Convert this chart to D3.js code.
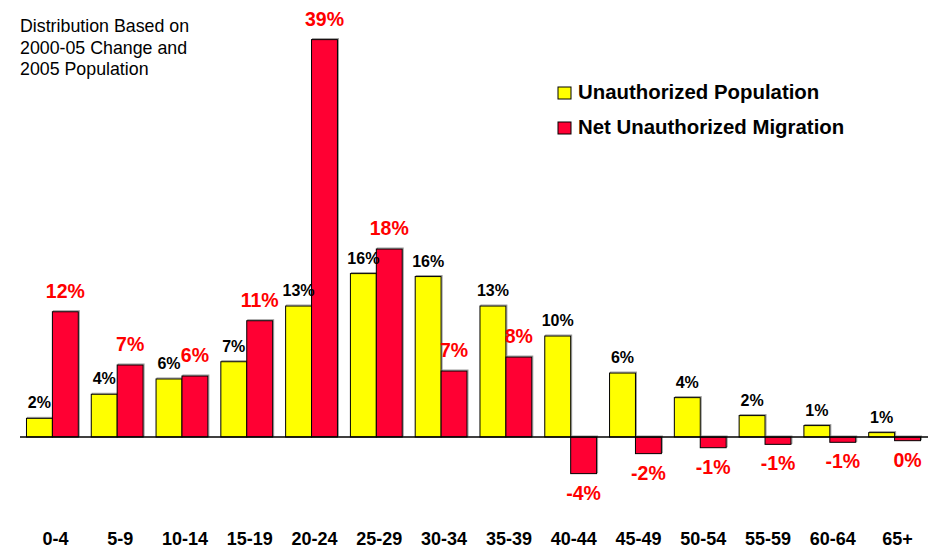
<!DOCTYPE html>
<html>
<head>
<meta charset="utf-8">
<script src="https://cdn.jsdelivr.net/npm/d3@7"></script>
<style>
  html, body { margin: 0; padding: 0; background: #fff; }
  svg { display: block; font-family: Arial, "Liberation Sans", sans-serif; }
</style>
</head>
<body>
<svg id="chart" width="936" height="548"></svg>
<script>
// ---- data ----
const categories = ["0-4","5-9","10-14","15-19","20-24","25-29","30-34","35-39","40-44","45-49","50-54","55-59","60-64","65+"];
const populationValues = [1.83, 4.19, 5.69, 7.38, 12.84, 16.02, 15.73, 12.84, 9.9, 6.27, 3.86, 2.1, 1.12, 0.43];
const migrationValues = [12.28, 7.06, 5.98, 11.4, 38.96, 18.43, 6.47, 7.84, -3.59, -1.63, -1.05, -0.72, -0.52, -0.36];
const populationLabels = ["2%","4%","6%","7%","13%","16%","16%","13%","10%","6%","4%","2%","1%","1%"];
const migrationLabels = ["12%","7%","6%","11%","39%","18%","7%","8%","-4%","-2%","-1%","-1%","-1%","0%"];
const seriesNames = ["Unauthorized Population", "Net Unauthorized Migration"];
const subtitleLines = ["Distribution Based on", "2000-05 Change and", "2005 Population"];

// ---- layout ----
const svg = d3.select("#chart");
const YELLOW = "#ffff00", RED = "#ff0033", LABEL_RED = "#ff0000";

const x = d3.scaleBand().domain(categories).range([20, 927]).paddingInner(0.2).paddingOuter(0.1);
const xs = d3.scaleBand().domain([0, 1]).range([0, x.bandwidth()]);
const y = d3.scaleLinear().domain([-5, 40]).range([488, 29]);

const rows = categories.map((c, i) => ({
  c, pop: populationValues[i], mig: migrationValues[i],
  popLabel: populationLabels[i], migLabel: migrationLabels[i]
}));

const g = svg.append("g");

function drawBars(cls, key, idx, color) {
  // soft gray shadow
  g.selectAll("rect." + cls + "s").data(rows).join("rect")
    .attr("class", cls + "s")
    .attr("x", d => x(d.c) + xs(idx) + 1)
    .attr("width", xs.bandwidth())
    .attr("y", d => y(Math.max(0, d[key])) - 1)
    .attr("height", d => Math.abs(y(d[key]) - y(0)))
    .attr("fill", "none").attr("stroke", "#999").attr("stroke-width", 1);
  g.selectAll("rect." + cls).data(rows).join("rect")
    .attr("class", cls)
    .attr("x", d => x(d.c) + xs(idx))
    .attr("width", xs.bandwidth())
    .attr("y", d => y(Math.max(0, d[key])))
    .attr("height", d => Math.abs(y(d[key]) - y(0)))
    .attr("fill", color).attr("stroke", "#000").attr("stroke-width", 1);
}
drawBars("pop", "pop", 0, YELLOW);
drawBars("mig", "mig", 1, RED);

// baseline
svg.append("line")
  .attr("x1", x.range()[0]).attr("x2", x.range()[1] + 1)
  .attr("y1", y(0)).attr("y2", y(0))
  .attr("stroke", "#000").attr("stroke-width", 1.5);

// value labels
g.selectAll("text.popl").data(rows).join("text")
  .attr("class", "popl")
  .attr("x", d => x(d.c) + xs(0) + xs.bandwidth() / 2)
  .attr("y", d => y(d.pop) - 10)
  .attr("text-anchor", "middle")
  .attr("font-size", 16).attr("font-weight", "bold").attr("fill", "#000")
  .text(d => d.popLabel);

g.selectAll("text.migl").data(rows).join("text")
  .attr("class", "migl")
  .attr("x", d => x(d.c) + xs(1) + xs.bandwidth() / 2)
  .attr("y", d => d.mig >= 0 ? y(d.mig) - 14 : y(d.mig) + 26)
  .attr("text-anchor", "middle")
  .attr("font-size", 19.5).attr("font-weight", "bold").attr("fill", LABEL_RED)
  .text(d => d.migLabel);

// category labels
const xAxis = d3.axisBottom(x).tickSize(0).tickPadding(0);
const ax = svg.append("g").attr("transform", "translate(3,531)").call(xAxis);
ax.select(".domain").remove();
ax.selectAll("text")
  .attr("font-size", 18).attr("font-weight", "bold").attr("fill", "#000")
  .attr("font-family", "Arial, 'Liberation Sans', sans-serif")
  .attr("dy", "0.75em");

// subtitle
svg.append("text")
  .attr("x", 20).attr("y", 32)
  .attr("font-size", 17.8).attr("fill", "#000")
  .selectAll("tspan").data(subtitleLines).join("tspan")
  .attr("x", 20).attr("dy", (d, i) => i === 0 ? 0 : 21.5)
  .text(d => d);

// legend
const legend = svg.append("g").attr("transform", "translate(558,87)");
const legendColors = [YELLOW, RED];
seriesNames.forEach((name, i) => {
  legend.append("rect")
    .attr("x", 0).attr("y", i * 35)
    .attr("width", 13).attr("height", 12)
    .attr("fill", legendColors[i]).attr("stroke", "#000").attr("stroke-width", 1);
  legend.append("text")
    .attr("x", 20).attr("y", i * 35 + 12.3)
    .attr("font-size", 20.4).attr("font-weight", "bold").attr("fill", "#000")
    .text(name);
});
</script>
</body>
</html>
